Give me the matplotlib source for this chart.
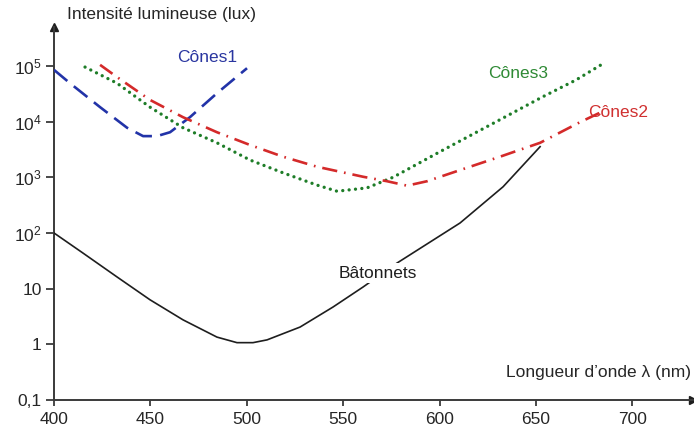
import numpy as np
import matplotlib
matplotlib.use("Agg")
import matplotlib.pyplot as plt

plt.rcParams['font.family'] = ['Liberation Sans', 'DejaVu Sans']
plt.rcParams['mathtext.fontset'] = 'custom'
plt.rcParams['mathtext.rm'] = 'Liberation Sans'
plt.rcParams['lines.scale_dashes'] = False

# ---- data ----
bat_x = [400, 415, 432.7, 449.8, 466.9, 484.5, 494.9, 503.2, 510.5, 527.6, 544.7, 560.3, 577.9, 610.6, 632.9, 652.1]
bat_logy = [2.0, 1.64, 1.21, 0.80, 0.44, 0.13, 0.03, 0.03, 0.08, 0.31, 0.67, 1.03, 1.46, 2.18, 2.83, 3.55]

c1_x = [400, 408.3, 423.9, 437.9, 446.2, 453.4, 460.2, 470.5, 484.5, 500.1]
c1_logy = [4.93, 4.69, 4.26, 3.89, 3.74, 3.74, 3.81, 4.08, 4.51, 4.96]

c3_x = [416.1, 432.7, 449.8, 466.9, 484.5, 501.7, 518.8, 536.4, 546.8, 562.3, 575.8, 600.7, 626.7, 653.1, 670.8, 683.7]
c3_logy = [4.98, 4.69, 4.26, 3.89, 3.62, 3.31, 3.08, 2.86, 2.75, 2.81, 3.00, 3.47, 3.95, 4.44, 4.75, 5.02]

c2_x = [423.9, 432.7, 449.8, 466.9, 484.5, 501.7, 518.8, 536.4, 560.3, 572.7, 583.1, 593.5, 610.6, 631.3, 652.1, 672.8, 683.7]
c2_logy = [5.02, 4.80, 4.39, 4.08, 3.81, 3.58, 3.37, 3.19, 3.01, 2.93, 2.85, 2.93, 3.13, 3.37, 3.62, 3.99, 4.17]

x_ticks = [400, 450, 500, 550, 600, 650, 700]
y_ticks = [0.1, 1, 10, 1e2, 1e3, 1e4, 1e5]
y_ticklabels = ['0,1', '1', '10', r'$\mathregular{10^2}$', r'$\mathregular{10^3}$',
                r'$\mathregular{10^4}$', r'$\mathregular{10^5}$']

# ---- figure ----
fig = plt.figure(figsize=(6.94, 4.34), dpi=100)
ax = fig.add_axes([54/694, 1-400/434, (693-54)/694, (400-27)/434])

ax.set_yscale('log')
ax.set_xlim(400, 731.4)
ax.set_ylim(0.1, 10**5.70)

to_y = lambda l: [10**v for v in l]

ax.plot(bat_x, to_y(bat_logy), color='#1e1e1e', lw=1.2, solid_joinstyle='round', zorder=3)
ax.plot(c1_x, to_y(c1_logy), color='#2233a8', lw=1.9, linestyle=(0, (12.5, 6)), zorder=4)
ax.plot(c3_x, to_y(c3_logy), color='#1e7d28', lw=2.4, linestyle=(0, (0.01, 4.6)),
        dash_capstyle='round', zorder=4)
ax.plot(c2_x, to_y(c2_logy), color='#d42a2a', lw=1.9, linestyle=(0, (11, 5, 1.2, 5)), zorder=4)

# labels on curves
ax.text(568, 10**1.28, 'Bâtonnets', ha='center', va='center', fontsize=12.5,
        color='#1e1e1e', zorder=5,
        bbox=dict(boxstyle='square,pad=0.15', fc='white', ec='none'))
fig.text(207/694, 1-58/434, 'Cônes1', ha='center', va='center', fontsize=12.5, color='#2a36a0')
fig.text(518/694, 1-74/434, 'Cônes3', ha='center', va='center', fontsize=12.5, color='#2f8a35')
fig.text(618/694, 1-113/434, 'Cônes2', ha='center', va='center', fontsize=12.5, color='#d03030')

# axes styling
for s in ['top', 'right']:
    ax.spines[s].set_visible(False)
for s in ['left', 'bottom']:
    ax.spines[s].set_color('#3a3a3a')
    ax.spines[s].set_linewidth(1.4)

ax.set_xticks(x_ticks)
ax.set_xticklabels([str(v) for v in x_ticks])
ax.set_yticks(y_ticks)
ax.set_yticklabels(y_ticklabels)
ax.yaxis.set_minor_locator(matplotlib.ticker.NullLocator())
ax.tick_params(axis='x', direction='out', length=4, width=1.3, color='#3a3a3a',
               labelsize=12.5, labelcolor='#262626', pad=5)
ax.tick_params(axis='y', direction='out', length=6, width=1.3, color='#3a3a3a',
               labelsize=12.5, labelcolor='#262626', pad=3)

# arrow heads
ax.plot(1, 0, marker='>', color='#1e1e1e', markersize=6, transform=ax.transAxes, clip_on=False)
ax.plot(0, 1, marker='^', color='#1e1e1e', markersize=6, transform=ax.transAxes, clip_on=False)

fig.text(67/694, 1-15/434, 'Intensité lumineuse (lux)', ha='left', va='center',
         fontsize=12.5, color='#262626')
fig.text(691/694, 1-373/434, 'Longueur d’onde λ (nm)', ha='right', va='center',
         fontsize=12.5, color='#262626')

fig.savefig('out.png', dpi=100)
